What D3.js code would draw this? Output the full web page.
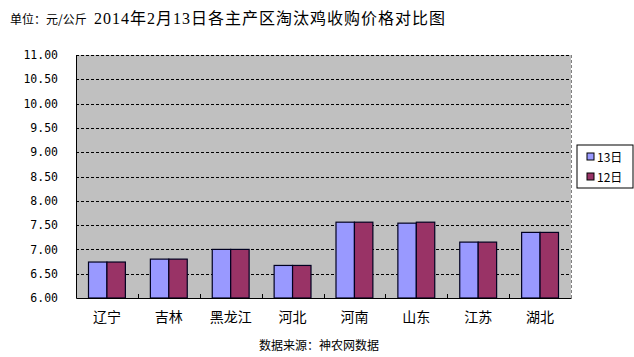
<!DOCTYPE html>
<html>
<head>
<meta charset="utf-8">
<script src="https://cdn.jsdelivr.net/npm/d3@7"></script>
<style>
  body { margin: 0; background: #fff; }
  text { font-family: "Noto Sans CJK SC", "DejaVu Sans", sans-serif; }
</style>
</head>
<body>
<div id="chart"></div>
<script>
'use strict';

// data
var regions = ["辽宁", "吉林", "黑龙江", "河北", "河南", "山东", "江苏", "湖北"];
var series = ["13日", "12日"];
var price13 = [6.74, 6.80, 7.00, 6.67, 7.56, 7.54, 7.15, 7.35];
var price12 = [6.74, 6.80, 7.00, 6.67, 7.56, 7.56, 7.15, 7.35];
var yTicks = [6, 6.5, 7, 7.5, 8, 8.5, 9, 9.5, 10, 10.5, 11];
var colors = ["#9999ff", "#993366"];

var W = 634, H = 357;
var margin = {top: 55, right: 63, bottom: 59, left: 76},
    width  = W - margin.left - margin.right,
    height = H - margin.top  - margin.bottom;

var svg = d3.select("#chart").append("svg")
    .attr("width", W).attr("height", H);

// title and unit
svg.append("text").attr("x", 10).attr("y", 24)
    .style("font-size", "12px").text("单位：元/公斤");
svg.append("text").attr("x", 270).attr("y", 24)
    .attr("text-anchor", "middle")
    .style("font-family", "'Liberation Serif', 'Noto Sans CJK SC', serif")
    .style("font-size", "16px").style("letter-spacing", "1px")
    .text("2014年2月13日各主产区淘汰鸡收购价格对比图");

var g = svg.append("g").attr("transform", "translate(" + margin.left + "," + margin.top + ")");

var x = d3.scaleBand().domain(regions).range([0, width]);
var x1 = d3.scaleBand().domain(series).range([12.5, x.bandwidth() - 12.5]);
var y = d3.scaleLinear().domain([6, 11]).range([height, 0]);

// plot background
g.append("rect").attr("width", width).attr("height", height).attr("fill", "#c0c0c0");

// dashed grid lines
g.selectAll(".grid").data(yTicks.slice(1)).enter().append("line")
    .attr("x1", 0).attr("x2", width)
    .attr("y1", function(d) { return Math.round(y(d)) + 0.5; })
    .attr("y2", function(d) { return Math.round(y(d)) + 0.5; })
    .attr("stroke", "#000").attr("stroke-dasharray", "3,2");

// right border dashed grey
g.append("line").attr("x1", width + 0.5).attr("x2", width + 0.5)
    .attr("y1", 0).attr("y2", height)
    .attr("stroke", "#808080").attr("stroke-dasharray", "3,2");

// bars
var data = regions.map(function(r, i) { return {region: r, values: [price13[i], price12[i]]}; });
var groups = g.selectAll(".grp").data(data).enter().append("g")
    .attr("transform", function(d) { return "translate(" + x(d.region) + ",0)"; });
groups.selectAll("rect").data(function(d) {
        return d.values.map(function(v, j) { return {s: series[j], v: v, c: colors[j]}; });
    }).enter().append("rect")
    .attr("x", function(d) { return x1(d.s); })
    .attr("width", x1.bandwidth())
    .attr("y", function(d) { return y(d.v); })
    .attr("height", function(d) { return height - y(d.v); })
    .attr("fill", function(d) { return d.c; })
    .attr("stroke", "#000020").attr("stroke-width", 1.2);

// y axis
var yAxis = g.append("g")
    .call(d3.axisLeft(y).tickValues(yTicks).tickFormat(d3.format(".2f")).tickSize(0).tickPadding(18));
yAxis.select(".domain").attr("stroke", "#000");
yAxis.selectAll("text").style("font-family", "'DejaVu Sans Mono', monospace")
    .style("font-size", "11.5px").attr("fill", "#000");

// x axis with small inside ticks at band borders
var xAxis = g.append("g").attr("transform", "translate(0," + height + ")")
    .call(d3.axisBottom(x).tickSize(0).tickPadding(14));
xAxis.select(".domain").attr("stroke", "#000");
xAxis.selectAll("text").style("font-size", "14px").attr("fill", "#000");
xAxis.selectAll(".sep").data(regions.slice(1)).enter().append("line")
    .attr("x1", function(d) { return Math.round(x(d)) + 0.5; })
    .attr("x2", function(d) { return Math.round(x(d)) + 0.5; })
    .attr("y1", 0).attr("y2", -4).attr("stroke", "#000");

// legend
var lg = svg.append("g").attr("transform", "translate(577,145)");
lg.append("rect").attr("width", 56).attr("height", 43)
    .attr("fill", "#fff").attr("stroke", "#000");
series.forEach(function(s, i) {
    lg.append("rect").attr("x", 10).attr("y", 8 + i * 20).attr("width", 7).attr("height", 7)
        .attr("fill", colors[i]).attr("stroke", "#000");
    lg.append("text").attr("x", 20).attr("y", 17 + i * 20)
        .style("font-size", "12px").text(s);
});

// source
svg.append("text").attr("x", 319).attr("y", 350).attr("text-anchor", "middle")
    .style("font-size", "12px").text("数据来源：神农网数据");
</script>
</body>
</html>
